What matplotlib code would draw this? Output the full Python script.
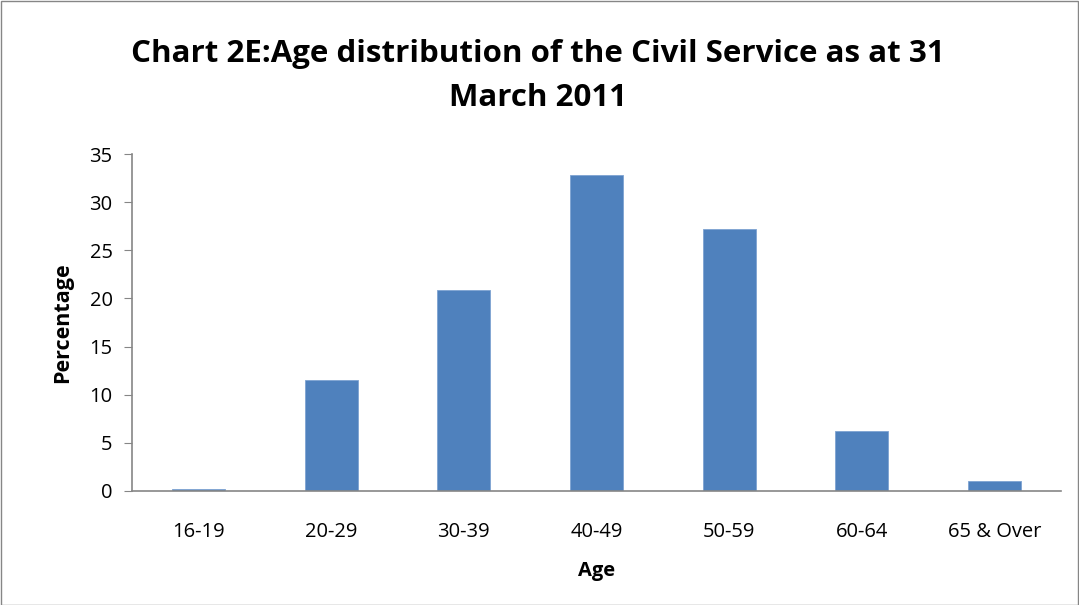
import matplotlib
matplotlib.use("Agg")
import matplotlib.pyplot as plt
from matplotlib.patches import Rectangle

categories = ["16-19", "20-29", "30-39", "40-49", "50-59", "60-64", "65 & Over"]
values = [0.2, 11.5, 20.9, 32.8, 27.2, 6.2, 1.0]
yticks = [0, 5, 10, 15, 20, 25, 30, 35]

plt.rcParams['font.family'] = ['Open Sans', 'DejaVu Sans']

W, H = 1079, 605
fig = plt.figure(figsize=(W/100, H/100), dpi=100)
ax = fig.add_axes([132/W, 1 - 491/H, (1061-132)/W, (491-154)/H])

x = range(len(categories))
ax.bar(x, values, width=0.4, color="#4F81BD", edgecolor="#7EA3D2", linewidth=0.6)
ax.set_xlim(-0.5, len(categories) - 0.5)
ax.set_ylim(0, 35)
ax.set_yticks(yticks)
ax.set_xticks(list(x))
ax.set_xticklabels(categories)

for s in ["top", "right"]:
    ax.spines[s].set_visible(False)
for s in ["left", "bottom"]:
    ax.spines[s].set_color("#868686")
    ax.spines[s].set_linewidth(1.2)
ax.tick_params(axis="y", length=6, color="#868686", labelsize=14.5, pad=8)
ax.tick_params(axis="x", length=0, labelsize=14.5, pad=22)

ax.set_xlabel("Age", fontsize=14.5, fontweight="bold", labelpad=14)
ax.set_ylabel("Percentage", fontsize=15.5, fontweight="bold", labelpad=12)

fig.text(538/W, 1 - 76/H, "Chart 2E:Age distribution of the Civil Service as at 31\nMarch 2011",
         ha="center", va="center", fontsize=22.5, fontweight="bold", linespacing=1.6)

fig.patches.append(Rectangle((0.5/W, 0.5/H), 1 - 1.5/W, 1 - 1.5/H, transform=fig.transFigure,
                             fill=False, edgecolor="#868686", linewidth=1))

fig.savefig("out.png", dpi=100)
